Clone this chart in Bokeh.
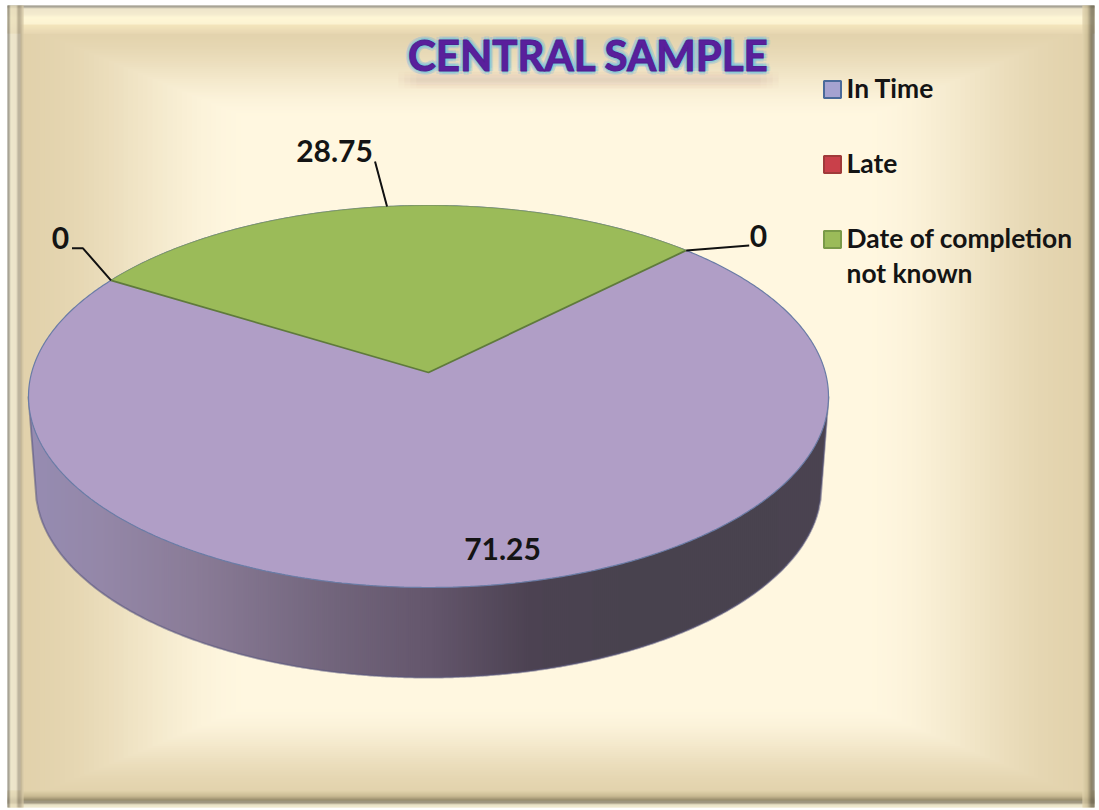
import numpy as np
from bokeh.plotting import figure
from bokeh.core.properties import value
from bokeh.embed import file_html
from bokeh.resources import INLINE

# ---- data
title_text = "CENTRAL SAMPLE"
categories = ["In Time", "Late", "Date of completion not known"]
values = [71.25, 0, 28.75]
value_labels = ["71.25", "0", "28.75"]
slice_colors = ["#b09ec6", "#c0504d", "#9bbb59"]
legend_colors = ["#a5a2d0", "#c9404a", "#9bbb59"]
legend_borders = ["#4a6a9a", "#a03a3a", "#7a9a48"]

# ---- layout, in page pixels of the reference
W, H = 1099, 810
CX, CY, RX, RY = 428.0, 396.0, 400.0, 191.0
APEX_Y = 372.0
BOT_CY, BOT_RX, BOT_RY = 486.0, 393.0, 191.0
FIRST_ANGLE = 45.0
FONT = value("Lato")

p = figure(width=W, height=H, x_range=(0, W), y_range=(0, H),
           output_backend="svg", toolbar_location=None, min_border=0,
           outline_line_color=None)
p.y_range.start, p.y_range.end = H, 0
p.xaxis.visible = False
p.yaxis.visible = False
p.grid.visible = False
p.background_fill_color = "#ffffff"
p.border_fill_color = None


def lerp_stops(x, stops):
    xs = [s[0] for s in stops]
    return np.stack([np.interp(x, xs, [s[1][i] for s in stops]) for i in range(3)], axis=-1)


def hexcol(c):
    return "#%02x%02x%02x" % tuple(int(round(v)) for v in c)


# ---- background: nested rectangles give a mitred gradient
edge = np.array([226, 210, 172.0])
mid = np.array([255, 247, 224.0])
levels = np.linspace(0, 1, 48)
bx0 = 20 + 230 * levels
bx1 = 1092 - 230 * levels
by0 = 24 + 95 * levels
by1 = 800 - 95 * levels
smooth = levels * levels * (3 - 2 * levels)
bg_cols = [hexcol(edge + (mid - edge) * s) for s in smooth]
p.quad(left=bx0, right=bx1, top=by0, bottom=by1, fill_color=bg_cols, line_color=None)

# ---- bevel bands, one pixel at a time
top_stops = [(5, (140, 134, 116)), (7, (140, 134, 116)), (8, (232, 222, 186)), (14, (240, 228, 190)),
             (17, (254, 244, 200)), (23, (252, 240, 196)), (33, (232, 216, 180))]
left_stops = [(7, (140, 134, 116)), (9, (140, 134, 116)), (10, (232, 222, 186)), (16, (230, 218, 184)),
              (18, (160, 148, 120)), (20, (170, 158, 130)), (23, (222, 208, 172))]
right_stops = [(1082, (226, 212, 174)), (1087, (200, 186, 146)), (1091, (110, 102, 80)), (1094, (110, 102, 80))]
bottom_stops = [(790, (226, 212, 174)), (796, (190, 176, 136)), (800, (122, 112, 82)), (803, (130, 120, 90)),
                (804, (224, 216, 178)), (807, (235, 228, 195))]

ys = np.arange(5, 33)
p.quad(left=7, right=1094, top=ys, bottom=ys + 1, fill_color=[hexcol(c) for c in lerp_stops(ys + 0.5, top_stops)], line_color=None)
ys = np.arange(790, 807)
p.quad(left=7, right=1094, top=ys, bottom=ys + 1, fill_color=[hexcol(c) for c in lerp_stops(ys + 0.5, bottom_stops)], line_color=None)
xs = np.arange(7, 23)
p.quad(left=xs, right=xs + 1, top=5, bottom=807, fill_color=[hexcol(c) for c in lerp_stops(xs + 0.5, left_stops)], line_color=None)
xs = np.arange(1082, 1094)
p.quad(left=xs, right=xs + 1, top=5, bottom=807, fill_color=[hexcol(c) for c in lerp_stops(xs + 0.5, right_stops)], line_color=None)

# faint reflection under the title, feathered at the sides by stacked layers
ys = np.arange(70, 92)
for inset in (0, 6, 12, 18):
    p.quad(left=398 + inset, right=778 - inset, top=ys, bottom=ys + 1, fill_color="#c99aa2",
           fill_alpha=0.07 * np.exp(-((ys - 79.0) / 5.5) ** 2), line_color=None)


# ---- geometry of the pie, from the values
total = sum(values)
a = (CY - APEX_Y) / RY
b = a / (1 + np.sqrt(1 - a * a))


def persp(cw_deg):
    theta = np.radians(90.0 - np.asarray(cw_deg, dtype=float))
    z = np.exp(1j * theta)
    w = (z + 1j * b) / (1 - 1j * b * z)
    phi = np.angle(w)
    return CX + RX * np.cos(phi), CY - RY * np.sin(phi)


shares = np.array(values) / total * 360.0
starts = FIRST_ANGLE + np.concatenate([[0], np.cumsum(shares)[:-1]])
ends = starts + shares

# ---- side wall as thin shaded trapezoids
wall_stops = [(28, (150, 140, 178)), (100, (148, 135, 168)), (200, (137, 123, 150)), (330, (114, 101, 124)),
              (430, (100, 86, 108)), (530, (76, 66, 82)), (630, (72, 66, 78)), (828, (74, 67, 80))]
edges_x = np.arange(CX - RX, CX + RX + 0.1, 2.0)


def wall_bottom(x):
    x = np.asarray(x, dtype=float)
    u = np.clip((x - CX) / BOT_RX, -1, 1)
    yb = BOT_CY + BOT_RY * np.sqrt(1 - u * u)
    out = np.abs(x - CX) > BOT_RX
    return np.where(out, CY + (BOT_CY - CY) * (RX - np.abs(x - CX)) / (RX - BOT_RX), yb)


ybot = wall_bottom(edges_x)
xs_w, ys_w, cols = [], [], []
for i in range(len(edges_x) - 1):
    x0, x1 = edges_x[i], edges_x[i + 1]
    j = min(i + 2, len(edges_x) - 1)     # each strip overlaps the next to hide seams
    xs_w.append([x0, edges_x[j], edges_x[j], x0])
    ys_w.append([CY, CY, ybot[j], ybot[i]])
    cols.append(hexcol(lerp_stops(np.array([(x0 + x1) / 2]), wall_stops)[0]))
p.patches(xs_w, ys_w, fill_color=cols, line_color=None)
p.line(edges_x, ybot, line_color="#5a587e", line_alpha=0.55, line_width=2)

# ---- top face
phi_all = np.radians(np.arange(0, 360.5, 0.5))
p.patch(CX + RX * np.cos(phi_all), CY - RY * np.sin(phi_all), fill_color=slice_colors[0],
        line_color="#6a7ca6", line_width=1.2)

# green slice (zero-sized slices collapse onto its edges)
k = 2
arc = np.linspace(starts[k], ends[k], 200)
ax, ay = persp(arc)
p.patch(np.r_[CX, ax], np.r_[APEX_Y, ay], fill_color=slice_colors[k], line_color=None)
p.multi_line([[ax[0], CX, ax[-1]]], [[ay[0], APEX_Y, ay[-1]]], line_color="#5f7a3c", line_width=1.8)
p.line(ax, ay, line_color="#7f9a58", line_width=0.8)

# ---- leader lines
big_x, big_y = persp((starts[2] + ends[2]) / 2)
l_x, l_y = persp(ends[1])
r_x, r_y = persp(ends[2] - 360)
p.multi_line([[float(big_x), float(big_x) - 12], [float(l_x), float(l_x) - 28, float(l_x) - 39], [float(r_x), float(r_x) + 63]],
             [[float(big_y), float(big_y) - 45], [float(l_y), float(l_y) - 32, float(l_y) - 32], [float(r_y), float(r_y) - 5]],
             line_color="#111111", line_width=2)

# ---- data labels
p.text(x=[502, 60, 334, 758], y=[548, 237, 150, 235],
       text=[value_labels[0], value_labels[1], value_labels[2], value_labels[1]],
       text_font=FONT, text_font_style="bold", text_font_size="30px", text_color="#141414",
       text_align="center", text_baseline="alphabetic")

# ---- legend
lg_y = [89, 164, 239]
p.rect(x=[832, 832, 832], y=lg_y, width=17, height=17, fill_color=legend_colors, line_color=legend_borders, line_width=2)
p.text(x=[846, 846, 846, 846], y=[87, 162, 237, 272],
       text=[categories[0], categories[1], "Date of completion", "not known"],
       text_font=FONT, text_font_style="bold", text_font_size="26.4px", text_color="#141414",
       text_align="left", text_baseline="alphabetic")

# ---- title with a glow
TX, TY = 588, 54
offs = [(-4, 0), (4, 0), (0, -4), (0, 4), (-3, -3), (3, -3), (-3, 3), (3, 3)]
p.text(x=[TX + o[0] for o in offs], y=[TY + o[1] for o in offs], text=[title_text] * len(offs),
       text_font=FONT, text_font_style="bold", text_font_size="42px",
       text_color="#7fb8e0", text_alpha=0.25,
       text_align="center", text_baseline="alphabetic")
offs2 = [(-2, 0), (2, 0), (0, -2), (0, 2)]
p.text(x=[TX + o[0] for o in offs2], y=[TY + o[1] for o in offs2], text=[title_text] * len(offs2),
       text_font=FONT, text_font_style="bold", text_font_size="42px",
       text_color="#6fd0d8", text_alpha=0.5,
       text_align="center", text_baseline="alphabetic")
p.text(x=[TX], y=[TY], text=[title_text], text_font=FONT, text_font_style="bold", text_font_size="42px",
       text_color="#5a1f9c", text_outline_color="#4d2090",
       text_align="center", text_baseline="alphabetic")

open("out.html", "w").write(file_html(p, INLINE))
